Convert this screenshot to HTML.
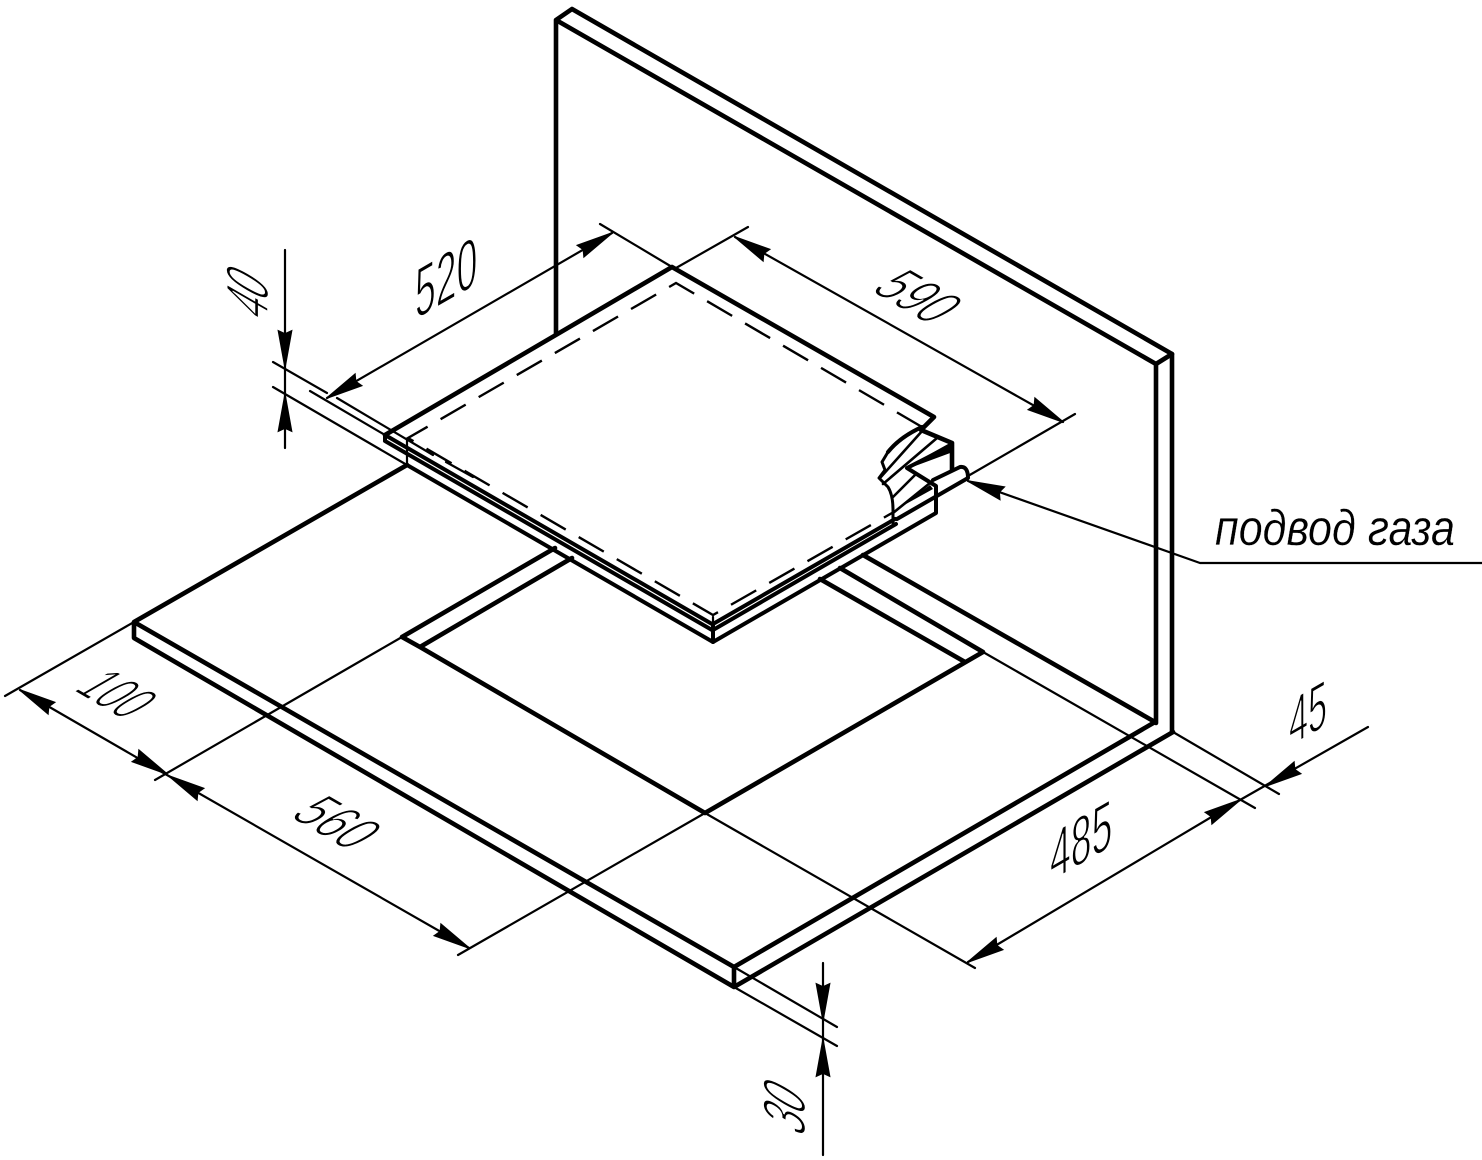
<!DOCTYPE html>
<html lang="ru">
<head>
<meta charset="utf-8">
<title>Схема установки варочной панели</title>
<style>
html,body{margin:0;padding:0;background:#fff}
svg{display:block}
.h{stroke:#000;stroke-width:4.6;fill:none;stroke-linecap:round;stroke-linejoin:round}
.m{stroke:#000;stroke-width:4;fill:none;stroke-linecap:round;stroke-linejoin:round}
.t{stroke:#000;stroke-width:2.2;fill:none;stroke-linecap:round;stroke-linejoin:round}
.d{stroke:#000;stroke-width:2.4;fill:none;stroke-dasharray:29 15}
.n{font-family:"Liberation Sans",sans-serif;fill:#000;stroke:#fff;stroke-width:1.5}
.l{font-family:"Liberation Sans","Noto Sans CJK JP",sans-serif;font-style:italic;fill:#000;stroke:#fff;stroke-width:.3}
</style>
</head>
<body>
<svg width="1482" height="1160" viewBox="0 0 1482 1160" xmlns="http://www.w3.org/2000/svg">
<defs><path id="a" d="M0 0L36 -6.5L33 0L36 6.5Z" fill="#000" stroke="#000" stroke-width="1.6"/></defs>

<!-- back panel -->
<path class="h" d="M556 334V20L572 9L1172 354L1156 364L556 20"/>
<path class="h" d="M1156 364V723M1172 354V732"/>

<!-- countertop -->
<path class="h" d="M407 465L134 622L734 967L1155 722M134 622V638L734 987L1173 732M734 967V987"/>
<path class="h" d="M863 555L1155 722"/>

<!-- cutout -->
<path class="h" d="M555 548L402 637L420 647L705 813L983 652L840 568M572 558L420 647M820 579L965 662"/>

<!-- hob -->
<path class="h" d="M385 435L672 267L934 417L921 430L952 443V470"/>
<path class="m" d="M385 435L712 624M385 441L712 630M385 435V441"/>
<path class="m" d="M407 465L713 642L936 513V486L907 468L952 445"/>
<path class="t" d="M407 440V465M713 617V642"/>
<path class="m" d="M713 624L895 519M713 630L896 524M713 624V642"/>
<path d="M907 468L952 443L950 452Z" fill="#000" stroke="#000" stroke-width="2"/>
<path class="m" d="M933 480L960 467Q968 466 968 478L897 519"/>
<path d="M897 509L930 485L933 489Z" fill="#000"/>
<path class="m" d="M922 427Q900 437 888 452"/>
<path class="t" d="M888 452L882 462L885 470L879 478L888 487Q893 495 893 510V523" style="stroke-width:3"/>
<path class="t" d="M880 478L923 430M883 484L937 438M892 498L915 475M893 513L930 483" style="stroke-width:2.6"/>
<path class="d" d="M922 427L676 283L408 438L713 615L892 513"/>

<!-- extension lines -->
<path class="t" d="M600 224L672 267M748 227L676 268M1075 414L968 476"/>
<path class="t" d="M273 362L327 393M337 398L433 455M446 462L473 477M273 387L407 465M310 391L385 435"/>
<path class="t" d="M134 622L5 696M402 637L155 780M705 813L458 955M705 813L975 968"/>
<path class="t" d="M983 652L1255 808M1173 732L1279 794"/>
<path class="t" d="M734 967L837 1027M734 987L837 1046"/>

<!-- dimension lines -->
<path class="t" d="M327 398L612 233"/>
<path class="t" d="M735 237L1063 422"/>
<path class="t" d="M285 250V448"/>
<path class="t" d="M20 690L167 775L469 948"/>
<path class="t" d="M968 962L1240 800"/>
<path class="t" d="M1240 800L1368 727"/>
<path class="t" d="M823 963V1155"/>
<path class="t" d="M968 481L1200 563H1482"/>

<!-- arrowheads -->
<use href="#a" transform="translate(327,398) rotate(-30)"/>
<use href="#a" transform="translate(612,233) rotate(150)"/>
<use href="#a" transform="translate(735,237) rotate(30)"/>
<use href="#a" transform="translate(1063,422) rotate(210)"/>
<use href="#a" transform="translate(285,367) rotate(-90)"/>
<use href="#a" transform="translate(285,395) rotate(90)"/>
<use href="#a" transform="translate(20,690) rotate(30)"/>
<use href="#a" transform="translate(167,774) rotate(210)"/>
<use href="#a" transform="translate(169,776) rotate(30)"/>
<use href="#a" transform="translate(469,948) rotate(210)"/>
<use href="#a" transform="translate(968,962) rotate(-30)"/>
<use href="#a" transform="translate(1240,800) rotate(150)"/>
<use href="#a" transform="translate(1266,786) rotate(-30)"/>
<use href="#a" transform="translate(823,1020) rotate(-90)"/>
<use href="#a" transform="translate(823,1040) rotate(90)"/>
<use href="#a" transform="translate(968,481) rotate(19.7)"/>

<!-- dimension text -->
<text class="n" font-size="62" textLength="72" lengthAdjust="spacingAndGlyphs" transform="translate(415,320) rotate(-30) skewX(-30)">520</text>
<text class="n" font-size="56" textLength="70" lengthAdjust="spacingAndGlyphs" transform="translate(869,290) rotate(30) skewX(-30)">590</text>
<text class="n" font-size="56" textLength="60" lengthAdjust="spacingAndGlyphs" transform="translate(72,690) rotate(30) skewX(-30)">100</text>
<text class="n" font-size="56" textLength="70" lengthAdjust="spacingAndGlyphs" transform="translate(288,816) rotate(30) skewX(-30)">560</text>
<text class="n" font-size="60" textLength="72" lengthAdjust="spacingAndGlyphs" transform="translate(1050,882) rotate(-30) skewX(-30)">485</text>
<text class="n" font-size="58" textLength="44" lengthAdjust="spacingAndGlyphs" transform="translate(1289,747) rotate(-30) skewX(-30)">45</text>
<text class="n" font-size="60" textLength="40" lengthAdjust="spacingAndGlyphs" transform="translate(268,324) rotate(-90) skewX(-30)">40</text>
<text class="n" font-size="60" textLength="42" lengthAdjust="spacingAndGlyphs" transform="translate(805,1139) rotate(-90) skewX(-30)">30</text>
<text class="l" x="1215" y="545" font-size="50" textLength="240" lengthAdjust="spacingAndGlyphs">подвод газа</text>
</svg>
</body>
</html>
